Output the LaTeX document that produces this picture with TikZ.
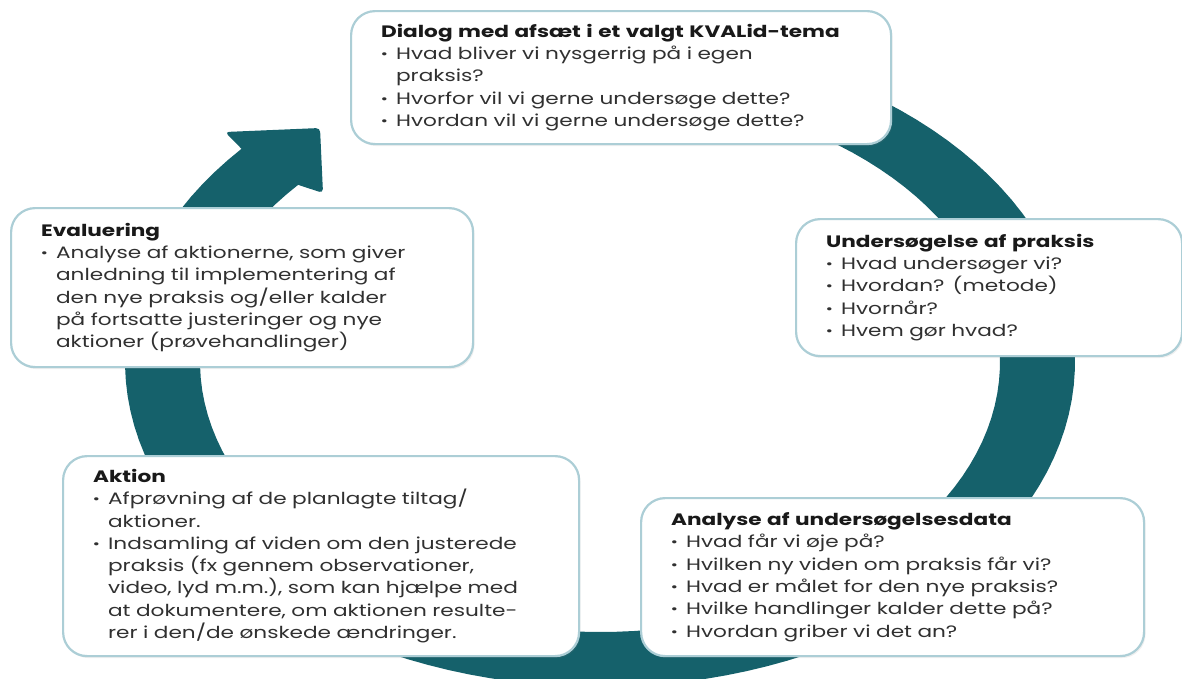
\documentclass[tikz,border=0pt]{standalone}
\usepackage{fontspec}
\setmainfont{Poppins}[FakeStretch=1.31]
\usetikzlibrary{positioning,shadows}
\definecolor{ringteal}{RGB}{21,97,107}
\definecolor{kant}{RGB}{172,206,214}
\definecolor{tekst}{RGB}{48,48,48}
\newcommand{\pkt}{\makebox[15pt][l]{\bfseries ·}}
\newcommand{\fortsat}{\hspace*{15pt}}
\newcommand{\overskrift}[1]{{\bfseries\color{black!90}#1}}

\begin{document}
\begin{tikzpicture}[x=1pt,y=-1pt,
  boks/.style={draw=kant,line width=2.2pt,rounded corners=24pt,fill=white,
    anchor=north west,inner xsep=30pt,inner ysep=0pt,align=left,text=tekst,
    font=\fontsize{16.5}{22.3}\selectfont,
    drop shadow={opacity=0.12,shadow xshift=1.5pt,shadow yshift=-2pt}},
  ring/.style={fill=ringteal}]
\useasboundingbox (0,0) rectangle (1182,678);
\coordinate (modhageA) at (225,132);
\coordinate (spids) at (320,128);
\coordinate (modhageB) at (323,193);
\fill[ring] plot[domain=90:-221,samples=120] ({600+475*cos(\x)},{362-325*sin(\x)})
  [rounded corners=4pt] -- (modhageA) -- (spids) -- (modhageB)
  [sharp corners] -- plot[domain=-221:90,samples=120] ({600+400*cos(\x)},{362-270*sin(\x)}) -- cycle;
\node[boks,minimum width=540pt,text width=480pt,minimum height=133pt] (dialog) at (350,10)
  {\overskrift{Dialog med afsæt i et valgt KVALid-tema}\\
   \pkt Hvad bliver vi nysgerrig på i egen\\
   \fortsat praksis?\\
   \pkt Hvorfor vil vi gerne undersøge dette?\\
   \pkt Hvordan vil vi gerne undersøge dette?};
\node[boks,minimum width=462pt,text width=402pt,minimum height=159pt] (evaluering) at (10,207)
  {\overskrift{Evaluering}\\
   \pkt Analyse af aktionerne, som giver\\
   \fortsat anledning til implementering af\\
   \fortsat den nye praksis og/eller kalder\\
   \fortsat på fortsatte justeringer og nye\\
   \fortsat aktioner (prøvehandlinger)};
\node[boks,minimum width=386pt,text width=326pt,minimum height=137pt] (undersoegelse) at (795,218)
  {\overskrift{Undersøgelse af praksis}\\
   \pkt Hvad undersøger vi?\\
   \pkt Hvordan? (metode)\\
   \pkt Hvornår?\\
   \pkt Hvem gør hvad?};
\node[boks,minimum width=516pt,text width=456pt,minimum height=200pt] (aktion) at (62,455)
  {\overskrift{Aktion}\\
   \pkt Afprøvning af de planlagte tiltag/\\
   \fortsat aktioner.\\
   \pkt Indsamling af viden om den justerede\\
   \fortsat praksis (fx gennem observationer,\\
   \fortsat video, lyd m.m.), som kan hjælpe med\\
   \fortsat at dokumentere, om aktionen resulte-\\
   \fortsat rer i den/de ønskede ændringer.};
\node[boks,minimum width=503pt,text width=443pt,minimum height=158pt] (analyse) at (640,497)
  {\overskrift{Analyse af undersøgelsesdata}\\
   \pkt Hvad får vi øje på?\\
   \pkt Hvilken ny viden om praksis får vi?\\
   \pkt Hvad er målet for den nye praksis?\\
   \pkt Hvilke handlinger kalder dette på?\\
   \pkt Hvordan griber vi det an?};
\end{tikzpicture}
\end{document}
